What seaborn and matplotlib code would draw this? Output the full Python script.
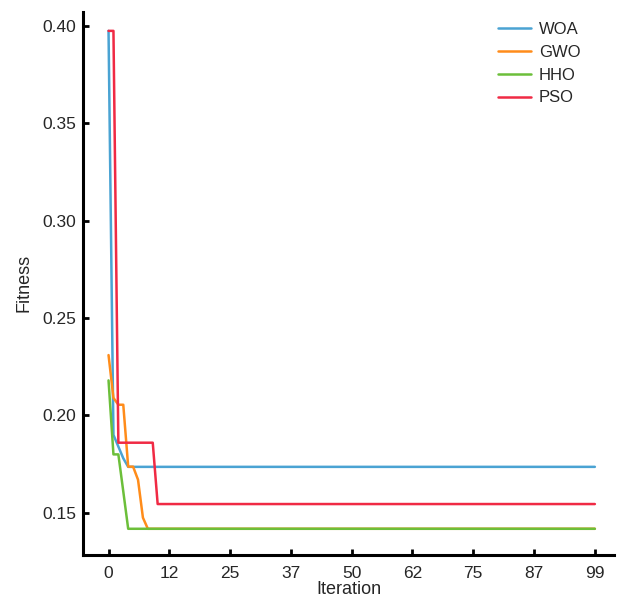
import numpy as np
import pandas as pd
import matplotlib
matplotlib.use("Agg")
import matplotlib.pyplot as plt
import seaborn as sns

n_iter = 100
iterations = np.arange(n_iter)

# early part of each convergence curve, then the final value held to the end
woa_head = [0.3975, 0.190, 0.184, 0.178, 0.1736]
woa_final = 0.1736
gwo_head = [0.231, 0.209, 0.2055, 0.2055, 0.1737, 0.1737, 0.167, 0.1475, 0.1418]
gwo_final = 0.1418
hho_head = [0.218, 0.180, 0.180, 0.161, 0.1418]
hho_final = 0.1418
pso_head = [0.3975, 0.3975, 0.186, 0.186, 0.186, 0.186, 0.186, 0.186, 0.186, 0.186, 0.1545]
pso_final = 0.1545

algorithms = ["WOA", "GWO", "HHO", "PSO"]
colors = ["#4aa3d3", "#ff8c1a", "#6cbf3a", "#f02a44"]

tick_pos = np.linspace(0, 99, 9)
tick_labels = ["0", "12", "25", "37", "50", "62", "75", "87", "99"]


def full_curve(head, final):
    return list(head) + [final] * (n_iter - len(head))


curves = {
    "WOA": full_curve(woa_head, woa_final),
    "GWO": full_curve(gwo_head, gwo_final),
    "HHO": full_curve(hho_head, hho_final),
    "PSO": full_curve(pso_head, pso_final),
}
df = pd.DataFrame(
    [(a, i, v) for a in algorithms for i, v in zip(iterations, curves[a])],
    columns=["Algorithm", "Iteration", "Fitness"],
)

sns.set_style("ticks")
plt.rcParams["font.family"] = ["Liberation Sans", "DejaVu Sans"]

fig = plt.figure(figsize=(6.24, 5.99), dpi=100)
ax = fig.add_axes([0.133, 0.074, 0.851, 0.906])
sns.lineplot(data=df, x="Iteration", y="Fitness", hue="Algorithm",
             hue_order=algorithms, palette=colors, linewidth=1.8, ax=ax)

ax.set_xlim(-5.2, 102.9)
ax.set_ylim(0.1285, 0.4072)
ax.set_xticks(tick_pos)
ax.set_xticklabels(tick_labels)
ax.set_yticks([0.15, 0.20, 0.25, 0.30, 0.35, 0.40])
ax.set_yticklabels(["0.15", "0.20", "0.25", "0.30", "0.35", "0.40"])
ax.tick_params(labelsize=12.5, width=2, length=4, direction="in", color="black")
ax.tick_params(axis="x", pad=8)
ax.tick_params(axis="y", pad=5)
ax.set_xlabel("Iteration", fontsize=13, labelpad=0.5)
ax.set_ylabel("Fitness", fontsize=13, labelpad=7)
sns.despine(ax=ax)
for s in ["left", "bottom"]:
    ax.spines[s].set_linewidth(2.2)
    ax.spines[s].set_color("black")

leg = ax.legend(loc="upper left", bbox_to_anchor=(498 / 624, 1 - 22 / 599),
                bbox_transform=fig.transFigure, frameon=False, fontsize=12,
                borderaxespad=0, borderpad=0, handlelength=2.0,
                handletextpad=0.45, labelspacing=0.47)
leg.set_title(None)

fig.savefig("out.png", dpi=100)
